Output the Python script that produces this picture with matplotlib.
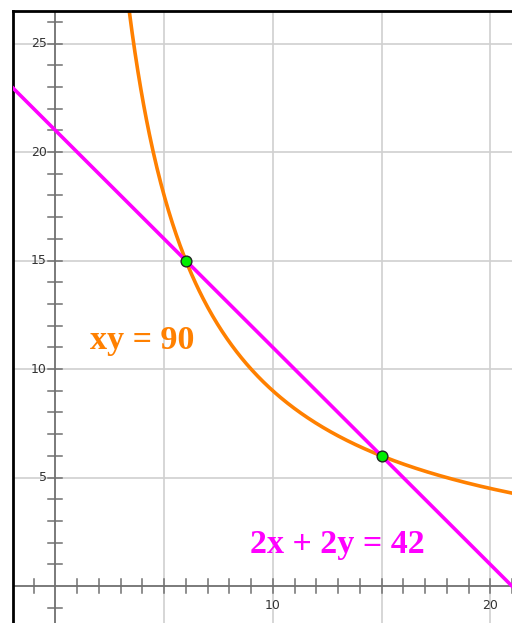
import matplotlib.pyplot as plt
import numpy as np

# Gleichungen: xy = 90 und 2x + 2y = 42
produkt = 90
summe_2x2y = 42
schnitt_x = [6, 15]
schnitt_y = [15, 6]
y_labels = [5, 10, 15, 20, 25]
x_labels = [10, 20]

xmin, xmax = -1.95, 21.0
ymin, ymax = -1.7, 26.5

fig = plt.figure(figsize=(5.12, 6.23), dpi=100)
ax = fig.add_axes([13 / 512, 0, 499 / 512, 612 / 623])
ax.set_xlim(xmin, xmax)
ax.set_ylim(ymin, ymax)

# Gitter alle 5 Einheiten
for g in range(5, 25, 5):
    ax.axvline(g, color="#d0d0d0", lw=1.2, zorder=0)
for g in range(5, 30, 5):
    ax.axhline(g, color="#d0d0d0", lw=1.2, zorder=0)

# Achsen durch den Ursprung
ax.axhline(0, color="#707070", lw=1.3, zorder=1)
ax.axvline(0, color="#707070", lw=1.3, zorder=1)
tl = 0.32
for t in range(-1, 22):
    if t != 0:
        ax.plot([t, t], [-tl, tl], color="#707070", lw=1.1, zorder=1)
for t in range(-1, 27):
    if t != 0:
        ax.plot([-tl, tl], [t, t], color="#707070", lw=1.1, zorder=1)

for v in y_labels:
    ax.text(-0.4, v, str(v), ha="right", va="center", fontsize=9, color="#333333")
for v in x_labels:
    ax.text(v, -0.9, str(v), ha="center", va="center", fontsize=9, color="#333333")

# Kurven
xs = np.linspace(produkt / ymax, xmax, 400)
ax.plot(xs, produkt / xs, color="#ff8000", lw=2.6, zorder=2)
xl = np.array([xmin, xmax])
ax.plot(xl, summe_2x2y / 2 - xl, color="#ff00ff", lw=2.6, zorder=3)

ax.scatter(schnitt_x, schnitt_y, s=60, color="#00ee00", edgecolor="#222222",
           linewidth=1, zorder=4)

ax.text(1.6, 11.3, "xy = 90", color="#ff8000", fontsize=24.5, fontweight="bold",
        family="Liberation Serif", ha="left", va="center")
ax.text(8.95, 1.9, "2x + 2y = 42", color="#ff00ff", fontsize=24.5, fontweight="bold",
        family="Liberation Serif", ha="left", va="center")

for s in ["right", "bottom"]:
    ax.spines[s].set_visible(False)
for s in ["left", "top"]:
    ax.spines[s].set_linewidth(2)
ax.set_xticks([])
ax.set_yticks([])

fig.savefig("out.png", dpi=100)
